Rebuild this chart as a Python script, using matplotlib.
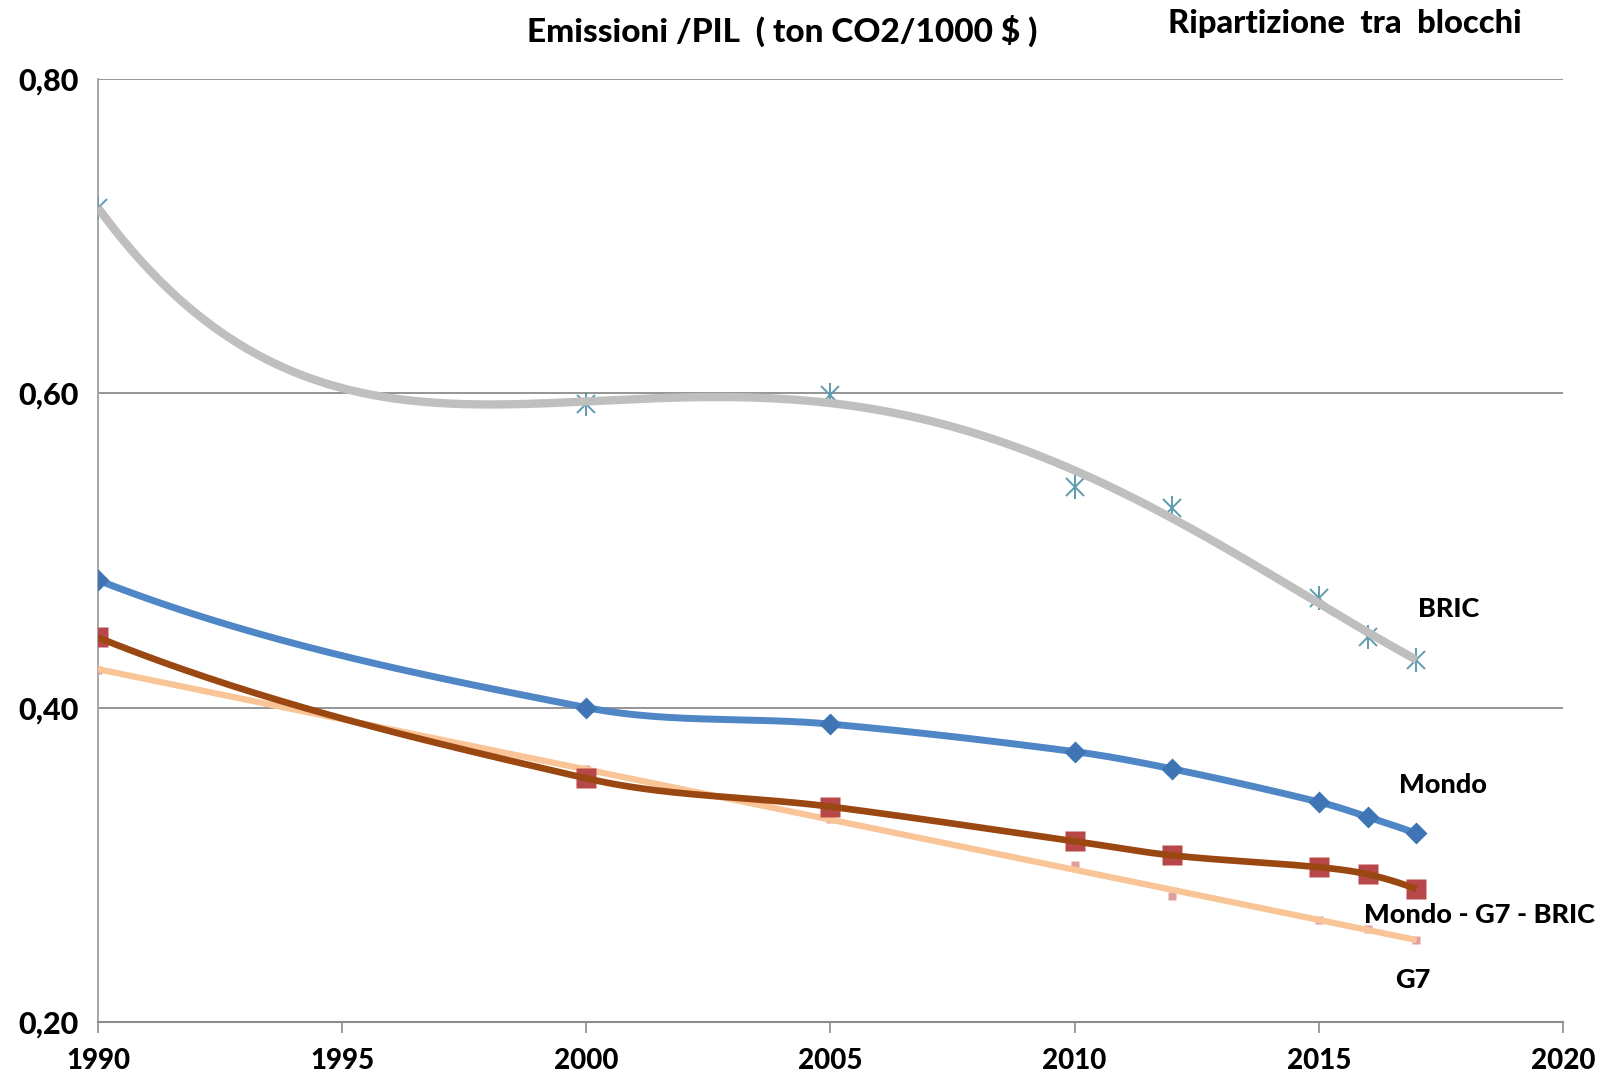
import numpy as np
import matplotlib.pyplot as plt

plt.rcParams['font.family'] = ['Lato', 'DejaVu Sans']

# Emissioni / PIL (ton CO2 / 1000 $) per blocco
anni = np.array([1990, 2000, 2005, 2010, 2012, 2015, 2016, 2017])
bric = np.array([0.718, 0.593, 0.599, 0.540, 0.527, 0.470, 0.445, 0.430])
mondo = np.array([0.481, 0.400, 0.3895, 0.372, 0.361, 0.340, 0.3305, 0.320])
resto = np.array([0.4446, 0.355, 0.337, 0.315, 0.306, 0.2985, 0.2940, 0.2846])  # Mondo - G7 - BRIC
g7 = np.array([0.424, 0.361, 0.329, 0.300, 0.280, 0.265, 0.259, 0.2525])

x_ticks = [1990, 1995, 2000, 2005, 2010, 2015, 2020]
y_ticks = [0.20, 0.40, 0.60, 0.80]


def linea_smussata(x, y, n=60):
    # spline di Hermite in x; pendenze agli estremi dalla parabola sui primi/ultimi 3 punti
    x = np.asarray(x, float)
    y = np.asarray(y, float)
    m = np.empty_like(y)
    m[1:-1] = (y[2:] - y[:-2]) / (x[2:] - x[:-2])
    a = np.polyfit(x[:3], y[:3], 2)
    m[0] = np.polyval(np.polyder(a), x[0])
    b = np.polyfit(x[-3:], y[-3:], 2)
    m[-1] = np.polyval(np.polyder(b), x[-1])
    xs, ys = [], []
    for i in range(len(x) - 1):
        h = x[i + 1] - x[i]
        t = np.linspace(0, 1, n)
        h00 = 2 * t ** 3 - 3 * t ** 2 + 1
        h10 = t ** 3 - 2 * t ** 2 + t
        h01 = -2 * t ** 3 + 3 * t ** 2
        h11 = t ** 3 - t ** 2
        xs.append(x[i] + t * h)
        ys.append(h00 * y[i] + h10 * h * m[i] + h01 * y[i + 1] + h11 * h * m[i + 1])
    return np.concatenate(xs), np.concatenate(ys)


fig = plt.figure(figsize=(16.14, 10.77), dpi=100)
ax = fig.add_axes([0.0607, 0.051, 0.9077, 0.876])

xx = np.linspace(1990, 2017, 300)

# BRIC: linea di tendenza polinomiale
coef_bric = np.polyfit(anni - 1990, bric, 4)
ax.plot(anni, bric, ls='none', marker='x', ms=13, mew=1.4, color='#5E9BAE', zorder=3)
ax.plot(anni, bric, ls='none', marker='|', ms=17, mew=1.4, color='#5E9BAE', zorder=3)
ax.plot(xx, np.polyval(coef_bric, xx - 1990), color='#BFBFBF', lw=6, zorder=4,
        solid_capstyle='butt')

# G7: linea di tendenza lineare
ax.plot(anni, g7, ls='none', marker='s', ms=6, color='#E0A0A0', mec='none', zorder=3)
coef_g7 = np.polyfit(anni, g7, 1)
ax.plot(xx, np.polyval(coef_g7, xx), color='#F9C597', lw=4.5, zorder=4, solid_capstyle='butt')

# Mondo - G7 - BRIC: linea smussata
rx, ry = linea_smussata(anni, resto)
ax.plot(anni, resto, ls='none', marker='s', ms=15, color='#B8474A', mec='none', zorder=5)
ax.plot(rx, ry, color='#9A4712', lw=4.8, zorder=6, solid_capstyle='butt')

# Mondo: linea smussata con marcatori
sx, sy = linea_smussata(anni, mondo)
ax.plot(sx, sy, color='#4F86C6', lw=5, zorder=7, solid_capstyle='butt')
ax.plot(anni, mondo, ls='none', marker='D', ms=11, color='#3F75B5', mec='none', zorder=8)

ax.set_xlim(1990, 2020)
ax.set_ylim(0.20, 0.80)
ax.set_xticks(x_ticks)
ax.set_yticks(y_ticks)
ax.set_yticklabels([f'{v:.2f}'.replace('.', ',') for v in y_ticks])
ax.grid(axis='y', color='#8C8C8C', lw=1.3)
ax.set_axisbelow(True)
for lato in ['top', 'right']:
    ax.spines[lato].set_visible(False)
ax.spines['left'].set_color('#A0A0A0')
ax.spines['left'].set_linewidth(1.3)
ax.spines['bottom'].set_color('#8C8C8C')
ax.spines['bottom'].set_linewidth(1.5)
ax.tick_params(axis='x', direction='out', length=8, color='#8C8C8C', width=1.2,
               labelsize=20, pad=11)
ax.tick_params(axis='y', length=0, labelsize=22, pad=14)
for lab in ax.get_xticklabels() + ax.get_yticklabels():
    lab.set_fontweight('black')

# etichette delle serie
testo = dict(fontsize=19.5, fontweight='black', ha='center', va='center', color='black',
             clip_on=False)
ax.text(2017.65, 0.463, 'BRIC', **testo)
ax.text(2017.54, 0.351, 'Mondo', **testo)
ax.text(2018.28, 0.268, 'Mondo - G7 - BRIC', **testo)
ax.text(2016.93, 0.227, 'G7', **testo)

fig.text(0.4845, 0.9712, 'Emissioni /PIL  ( ton CO2/1000 $ )', fontsize=24,
         fontweight='black', ha='center', va='center')
fig.text(0.8333, 0.9786, 'Ripartizione  tra  blocchi', fontsize=23.5,
         fontweight='black', ha='center', va='center')

fig.savefig('out.png', dpi=100, facecolor='white')
